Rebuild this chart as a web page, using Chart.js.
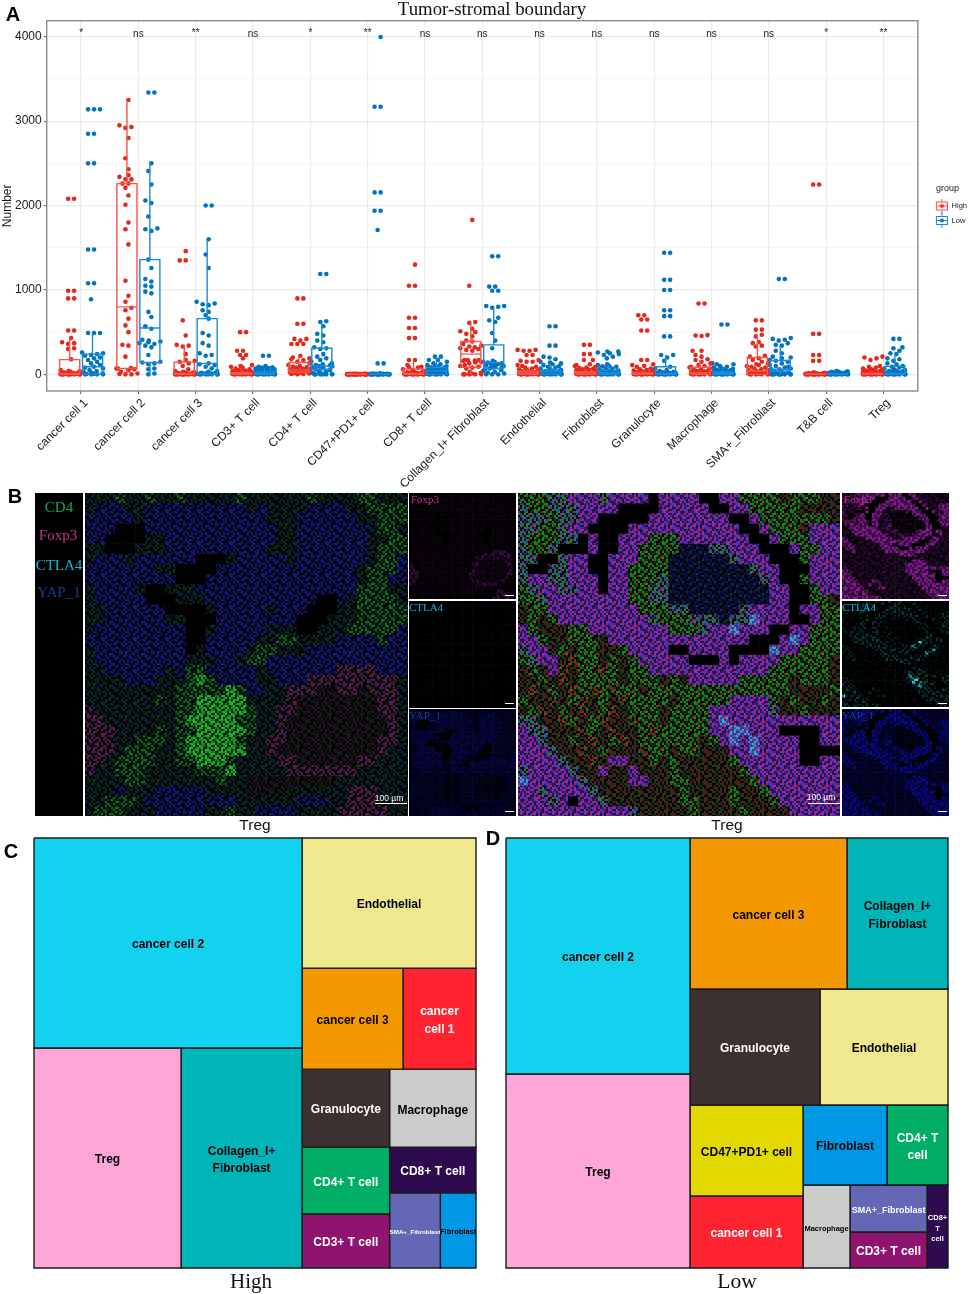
<!DOCTYPE html>
<html>
<head>
<meta charset="utf-8">
<title>Tumor-stromal boundary</title>
<script src="https://cdn.jsdelivr.net/npm/chart.js"></script>
<style>
  html, body { margin: 0; padding: 0; background: #fff; }
  #page { position: relative; width: 969px; height: 1294px; overflow: hidden; }
  canvas { position: absolute; display: block; }
  .txt { position: absolute; white-space: nowrap; transform: translate(-50%, -50%); line-height: 1; }
</style>
</head>
<body>
<div id="page"></div>
<script>
// ---- panel A data ----
var categories = ['cancer cell 1', 'cancer cell 2', 'cancer cell 3', 'CD3+ T cell', 'CD4+ T cell', 'CD47+PD1+ cell', 'CD8+ T cell',
  'Collagen_I+ Fibroblast', 'Endothelial', 'Fibroblast', 'Granulocyte', 'Macrophage', 'SMA+_Fibroblast', 'T&B cell', 'Treg'];
var significance = ['*', 'ns', '**', 'ns', '*', '**', 'ns', 'ns', 'ns', 'ns', 'ns', 'ns', 'ns', '*', '**'];
var yTicks = [0, 500, 1000, 1500, 2000, 2500, 3000, 3500, 4000];
var xTicks = [1, 2, 3, 4, 5, 6, 7, 8, 9, 10, 11, 12, 13, 14, 15];

// lower whisker, q1, median, q3, upper whisker
var highBoxes = [[0,0,10,175,430],[0,70,800,2260,3250],[0,0,10,145,350],[0,0,5,20,50],[0,25,50,140,220],[0,0,0,5,5],[0,0,10,65,160],
  [0,85,240,390,620],[0,0,20,40,90],[0,0,20,30,60],[0,0,10,20,50],[0,0,20,85,170],[0,0,40,200,470],[0,0,0,5,10],[0,0,5,15,35]];
var lowBoxes = [[0,0,90,240,490],[0,140,550,1360,2500],[0,5,130,660,1600],[0,0,10,30,70],[0,60,100,310,630],[0,0,0,5,10],[0,0,40,80,210],
  [0,70,140,350,780],[0,0,30,50,110],[0,0,20,50,110],[0,0,10,90,230],[0,0,15,30,70],[0,40,60,165,340],[0,0,0,5,10],[0,0,10,95,230]];

var highPoints = [
  [2080,2080,990,990,900,900,520,520,430,380,370,360,310,300,180,50,40,35,30,25,20,20,15,15,10,10,10,5,5,5,5,0,0,0,0,0,0,0,0,0],
  [3250,2950,2930,2920,2800,2560,2430,2360,2340,2310,2310,2260,2260,2210,2120,2010,1800,1720,1540,1110,930,860,790,760,660,580,500,350,340,210,75,70,70,60,50,30,10,5,0,0],
  [1460,1350,1350,640,460,350,340,330,240,170,160,150,130,100,60,40,30,25,20,15,15,10,10,10,5,5,5,5,5,0,0,0,0,0,0,0,0,0,0,0],
  [500,500,280,280,230,230,190,110,100,90,80,70,60,50,45,40,35,30,30,25,25,20,20,15,15,10,10,10,5,5,5,5,5,0,0,0,0,0,0,0],
  [900,900,600,600,420,420,400,360,360,360,220,200,190,180,170,150,130,110,100,90,85,80,70,60,55,50,45,40,35,30,30,25,20,20,15,10,10,5,5,0],
  [8,8,7,7,6,6,5,5,5,5,4,4,4,3,3,3,3,2,2,2,2,1,1,1,1,0,0,0,0,0,0,0,0,0,0,0,0,0,0,0],
  [1300,1050,1050,670,670,550,550,430,430,170,170,110,90,85,80,60,50,40,30,25,20,15,15,10,10,10,5,5,5,5,0,0,0,0,0,0,0,0,0,0],
  [1830,1050,620,610,540,510,500,480,450,400,390,360,340,330,320,310,300,290,280,170,170,170,165,160,150,140,130,110,100,90,80,70,30,20,10,0,0,0,0,0],
  [290,290,280,280,230,230,170,160,150,150,110,100,90,80,70,60,50,45,40,35,30,25,20,20,15,15,10,10,5,5,5,5,0,0,0,0,0,0,0,0],
  [350,350,240,240,170,170,120,110,100,90,80,75,70,60,55,50,45,40,35,30,25,20,20,15,15,10,10,10,5,5,5,5,0,0,0,0,0,0,0,0],
  [700,700,650,650,520,520,170,170,120,110,100,90,70,60,50,45,40,35,30,25,20,20,15,15,10,10,10,5,5,5,5,5,0,0,0,0,0,0,0,0],
  [840,840,465,460,455,280,280,230,210,180,170,150,130,110,100,90,80,70,60,50,45,40,35,30,25,20,20,15,15,10,10,5,5,5,0,0,0,0,0,0],
  [640,640,530,530,470,450,380,370,340,330,220,210,190,170,150,130,120,110,100,90,80,70,60,50,40,40,30,30,20,20,15,10,10,5,5,0,0,0,0,0],
  [2250,2250,480,480,230,230,160,160,25,20,15,15,10,10,8,8,6,6,5,5,5,4,4,3,3,2,2,1,1,1,0,0,0,0,0,0,0,0,0,0],
  [210,200,190,170,100,90,80,70,60,55,50,45,40,35,30,30,25,25,20,20,15,15,10,10,10,5,5,5,5,5,0,0,0,0,0,0,0,0,0,0]
];
var lowPoints = [
  [3140,3140,3140,2850,2850,2500,2500,1480,1480,1080,1080,890,490,490,490,260,250,240,230,220,200,190,170,150,130,110,90,80,70,50,40,30,20,10,5,5,0,0,0,0],
  [3340,3340,2500,2410,2250,2060,2030,1870,1730,1720,1700,1360,1260,1130,1100,1050,1040,980,960,740,680,570,540,410,400,390,380,370,360,340,320,230,150,140,130,120,70,60,10,0],
  [2000,2000,1600,1420,1260,860,840,830,820,760,740,700,660,490,460,370,340,250,230,220,130,120,110,90,70,40,30,20,15,10,10,5,5,0,0,0,0,0,0,0],
  [220,220,100,90,85,80,75,70,65,60,55,50,45,40,35,30,30,25,25,20,20,15,15,15,10,10,10,10,5,5,5,5,5,0,0,0,0,0,0,0],
  [1190,1190,630,620,570,480,460,400,380,320,310,300,240,210,190,170,150,130,120,110,105,100,95,90,85,80,70,60,50,40,30,20,10,5,0,0,0,0,0,0],
  [3997,3170,3170,2156,2156,1938,1938,1710,130,130,12,10,8,7,6,6,5,5,4,4,3,3,3,2,2,2,1,1,1,1,0,0,0,0,0,0,0,0,0,0],
  [210,210,170,170,150,130,120,110,100,95,90,85,80,75,70,65,60,55,50,50,45,40,35,30,30,25,20,20,15,10,10,5,5,5,0,0,0,0,0,0],
  [1400,1400,1040,1040,990,990,810,810,800,790,670,640,620,490,400,310,160,150,145,140,130,125,120,110,105,100,95,90,80,75,70,60,50,40,30,20,10,0,0,0],
  [570,570,340,340,210,200,180,150,140,130,120,110,95,90,80,70,60,50,45,40,35,30,25,20,20,15,15,10,10,5,5,5,5,0,0,0,0,0,0,0],
  [270,270,260,250,240,230,210,190,120,110,100,95,90,80,70,60,50,45,40,35,30,25,25,20,20,15,15,10,10,5,5,5,5,0,0,0,0,0,0,0],
  [1440,1440,1120,1120,1000,1000,760,760,690,690,450,450,230,230,200,160,90,70,50,40,30,25,20,20,15,15,10,10,5,5,5,5,0,0,0,0,0,0,0,0],
  [590,590,130,120,120,100,90,80,70,65,60,55,50,45,40,40,35,30,30,25,25,20,20,15,15,10,10,10,5,5,5,5,0,0,0,0,0,0,0,0],
  [1130,1130,430,420,410,400,370,350,340,280,250,210,200,190,170,160,150,130,110,100,90,80,70,60,60,50,40,30,20,10,5,0,0,0,0,0,0,0,0,0],
  [40,35,30,30,25,25,20,20,18,16,15,14,12,11,10,10,9,8,8,7,6,6,5,5,5,4,4,3,3,2,2,2,1,1,1,0,0,0,0,0],
  [420,420,320,310,280,250,240,190,180,160,130,120,100,90,80,70,60,50,45,40,35,30,25,20,20,15,15,10,10,5,5,5,0,0,0,0,0,0,0,0]
];

// ---- panel B: tissue maps read by eye, one letter per grid cell ----
var highTissue = [
  'eeegeegeegeeeeegeeeeeegeeeeggeee','ebbbeebbbbbbbbbbebeeeebbbbeegggg','bbbbbebbbbbbbbbbbbeeebbbbbbeeggg','bbbkkkbbbbbbbbbbbbbeebbbbbbbegge',
  'bbkkkkeebbbbbbbbbbbeebbbbbbbeegg','eekkkeeebbbbbbbbbbeeebbbbbbbeggg','ebbbebbbbbbkkkebbbbbebbbbbbbeggb','bbbbbbbeekkkkbbbbbbbbbbbbbbegggb',
  'bbbbbbbbbkkkbbbbbbbbbbbbbbbeggbb','ebbbbekkeeebbbbbbbbbbbbbbbbgggee','ebbbbbkkkeeebbbbbbbbbbbkkbegggge','eebbbbbbkkkkebbbbbebbbkkkeeggggg',
  'eebbbbbbeekkkbbbbbbbbkkkeeeggggg','ebbbbbbbbbkkebbbbbeeekkeeegggggb','bbbbbbbbbbkkbbbbbeeggeeeebbbbgbb','ebbbbbbbbbkebbbbeggeeebbbbbbbbbb',
  'ebbbbbbbbbeeebbeggbbbbbbbbbbbbbb','eebbbbbbebggbbbbbebbbbbbbvvvvbbb','eeeebbbeeegGgbbbbeebbbvvvvvvvvve','eeeeeeeeegggggGgbbeevvvddvvdvvve',
  'eeeeeeegeggGGGGGeeeevddddddddvve','veeeeeeeeggGGGGGgeevvddddddddvve','vveeeeeeegGGGGGggeevddddddddddve','vvveeeegeggGGGGGgeevddddddddddve',
  'vvveegggegGGGGGgeevvdddddddddvve','vvvegggeegGGGGGGeevddddddddddvee','vveggggeeggGGGgeeeevvddddddvveee','veegggeeeeegggGeeeeevvvvvvveeeee',
  'eeeeggeeeeeeegeedddddddddeeeeeee','eeebeeebbbbbeeeeddddeeeeeevvveee','eegggebbbbbbbbbeeeeeebbbeevvveee','egggeeebbbbbeegeebbbbeeeevvvvvee'
];
var lowTissue = [
  'gggxxmmmxmmmmkmmmmkkmmggggdgggdd','xggxxxmmmmkkkkmmmmmkkmmgggggdddd','xxxgxxmmkkkkkmmmmmmmmkkmgggggggd','xxggxmmkkkkmmmmmmmmmmmkkmgggdmmm',
  'xgggxxkmkkmmmgggmmmmmmmkkmgggmmm','xggxkkkmkkmmggggnnnxxmmmkkkmggmm','xxkkxmmkkmmmgggnnnnnnxmmmkkkgmmm','xkkxxmmkkmmggggnnnnnnnnxmmkkkmmm',
  'xmmxxmmmkmmgggxnnnnnnnnnxmkkgmmm','gxmmxxmmkmmggxxnnnnnnnnnnmmkkgmm','ggxmmmmmmmmggxxnnnnnnnnnnmmkkggd','dggmmmmmmmmmgggxxnnnnnxmmmmkmmgg',
  'dgdgmmmmmmmmmxgggxxxnxxcmmmkkmgg','mgdddggmmmmmmmmgggxmmcmmmkkmmggg','mmgddgggdmmmmmmmmmmmmmmkkkmcmggg','xmmdgdggddgmmmmkkmmmmkkkkcmmgggg',
  'gxmmdrggdgdgmmmmmkkkmkmmmmgggggd','dgdmrdggrgdggmmmmmmmmmmmmggggggd','ddgdrdggggdgggdgdmmmmmgggggdgggd','drdgdrgrgrggdggggggggggggggddddg',
  'gddrdgrdgdrggggdgggggmmmmgdgddgd','dgrdgdrdgrdgggdggggmmmmmmxddgddd','xxddrgdgrddrggdggggmcmmmmmmmmmmm','mxxdddrgdrddgrgggggmmccmmmkkkkmm',
  'mmxddgdrdgrdggggggdgmcmcmmmmkkmm','mmmxddrdgdddrggdggdddmmcmmmmkkkk','mmmmxddrdmmddgdgdddddgmmmmmmkkmm','xmmmmxddmddmdddgddddddgmmmmmmmmm',
  'cmmmmmxddddmmddggddddddgmmmmmmmm','mmxmmmmxddddddddgddddgddgmmmmmmm','mmmxmkmmxdddddddggdddgdddgmmmmmm','mmmmmmmmmmmxdddddgddddgddddmmmmm'
];
var speckleTile = ['2012021302120012','1220310212023101','0212120021302210','2301202130120213','1020213022010122','2112002120321002',
  '0231210201220131','1202032212010220','2010122103022102','3221021200213012','0120230121022120','2102012023101203',
  '1230220112020221','0212103202132010','2021210220112302','1302002131022120'];

var black4 = ['#000','#000','#000','#000'];
var dim = ['#0a020c','#050105','#000','#080208'];
var highMerge = { k: ['#020402','#000','#000','#010201'], e: ['#0a3010','#080834','#010201','#081c0e'], b: ['#16168c','#08083c','#020206','#082010'],
  g: ['#10701a','#062a0c','#010301','#0a1448'], G: ['#1cb828','#0c7a18','#031e08','#109a1e'], v: ['#5a1660','#08200e','#030303','#701428'], d: ['#2a0c28','#0a200e','#030303','#040404'] };
var highFoxp3 = { k: black4, e: dim, b: dim, g: dim, G: dim, v: ['#3a0c44','#1c0620','#0a020c','#300a38'], d: ['#100414','#0a020c','#050105','#140518'] };
var highCtla4 = { k: black4, e: black4, b: black4, g: ['#000','#020602','#000','#010301'], G: ['#000','#020602','#000','#010301'], v: black4, d: black4 };
var highYap = { k: black4, e: ['#020228','#01011a','#01010c','#030330'], b: ['#040440','#030330','#020218','#05054c'], g: ['#020228','#01011a','#01010c','#030330'],
  G: ['#01011a','#01010c','#000008','#020228'], v: ['#030334','#020228','#010114','#04043c'], d: ['#01011a','#01010c','#000008','#020228'] };

var lowMerge = { k: ['#000','#000','#000','#010101'], m: ['#8a2aa8','#2a2aac','#2a1240','#b81e58'], x: ['#188a2c','#3030a8','#0c0c14','#a82040'], g: ['#0c8c1a','#083a10','#030603','#981c1c'],
  d: ['#0a4014','#681018','#040604','#101034'], r: ['#a01818','#0a4014','#040604','#108020'], n: ['#0a0a50','#101034','#030308','#0c3a18'], c: ['#20b8c8','#7a3aa8','#2040a0','#c03088'] };
var lowFoxp3 = { k: black4, m: ['#7a1a80','#52105e','#340a40','#8a1c8a'], c: ['#7a1a80','#52105e','#340a40','#8a1c8a'], x: ['#4a1050','#300a38','#180618','#5a1268'],
  g: ['#24082a','#140518','#0a020c','#300a38'], d: ['#1c0820','#100410','#0a020c','#240a28'], r: ['#1c0820','#100410','#0a020c','#240a28'], n: ['#100414','#080208','#040104','#140518'] };
var lowCtla4 = { k: black4, m: ['#052828','#010808','#000','#083c3c'], c: ['#30c0c0','#108080','#083030','#50e0e0'], x: ['#021414','#000','#000','#042020'],
  g: ['#010808','#000','#000','#021010'], d: ['#000','#000','#000','#010808'], r: ['#000','#000','#000','#010808'], n: ['#000','#000','#000','#010808'] };
var lowYap = { k: black4, m: ['#06067a','#04045c','#020224','#08088c'], c: ['#06067a','#04045c','#020224','#08088c'], x: ['#05056c','#040450','#020230','#07078a'],
  g: ['#020238','#020228','#010114','#030344'], d: ['#02022c','#020220','#010110','#030338'], r: ['#02022c','#020220','#010110','#030338'], n: ['#01011c','#010110','#00000a','#020228'] };

// ---- panels C and D ----
var cellColors = { 'cancer cell 2': '#12D2F0', 'Treg': '#FFA6D8', 'Collagen_I+ Fibroblast': '#00B5B8', 'Endothelial': '#F0E88E', 'cancer cell 3': '#F39800',
  'cancer cell 1': '#FF2430', 'Granulocyte': '#3D3030', 'Macrophage': '#CBCBCB', 'CD4+ T cell': '#00AE66', 'CD8+ T cell': '#2E0A4E', 'CD3+ T cell': '#8E1470',
  'SMA+_Fibroblast': '#6468B4', 'Fibroblast': '#0098E4', 'CD47+PD1+ cell': '#E3D800' };
var whiteText = ['cancer cell 1', 'Granulocyte', 'CD4+ T cell', 'CD8+ T cell', 'CD3+ T cell', 'SMA+_Fibroblast'];
var highAreas = { 'cancer cell 2': 5628, 'Treg': 3234, 'Collagen_I+ Fibroblast': 2662, 'Endothelial': 2262, 'cancer cell 3': 1020, 'cancer cell 1': 737, 'Granulocyte': 682,
  'Macrophage': 675, 'CD4+ T cell': 586, 'CD3+ T cell': 472, 'CD8+ T cell': 394, 'SMA+_Fibroblast': 381, 'Fibroblast': 268 };
var lowAreas = { 'cancer cell 2': 4342, 'Treg': 3570, 'cancer cell 3': 2371, 'Collagen_I+ Fibroblast': 1525, 'Granulocyte': 1508, 'Endothelial': 1485, 'CD47+PD1+ cell': 1028,
  'cancer cell 1': 814, 'Fibroblast': 672, 'CD4+ T cell': 488, 'Macrophage': 390, 'SMA+_Fibroblast': 362, 'CD3+ T cell': 277, 'CD8+ T cell': 174 };
var highTree = ['h', ['v', 'cancer cell 2', ['h', 'Treg', 'Collagen_I+ Fibroblast']],
  ['v', 'Endothelial', ['h', 'cancer cell 3', 'cancer cell 1'],
    ['h', ['v', 'Granulocyte', 'CD4+ T cell', 'CD3+ T cell'], ['v', 'Macrophage', 'CD8+ T cell', ['h', 'SMA+_Fibroblast', 'Fibroblast']]]]];
var lowTree = ['h', ['v', 'cancer cell 2', 'Treg'],
  ['v', ['h', 'cancer cell 3', 'Collagen_I+ Fibroblast'], ['h', 'Granulocyte', 'Endothelial'],
    ['h', ['v', 'CD47+PD1+ cell', 'cancer cell 1'],
      ['v', ['h', 'Fibroblast', 'CD4+ T cell'], ['h', 'Macrophage', ['v', 'SMA+_Fibroblast', 'CD3+ T cell'], 'CD8+ T cell']]]]];
var highLines = { 'Collagen_I+ Fibroblast': ['Collagen_I+', 'Fibroblast'], 'cancer cell 1': ['cancer', 'cell 1'] };
var lowLines = { 'Collagen_I+ Fibroblast': ['Collagen_I+', 'Fibroblast'], 'CD4+ T cell': ['CD4+ T', 'cell'], 'CD8+ T cell': ['CD8+', 'T', 'cell'] };
var highSizes = { 'SMA+_Fibroblast': 6.2, 'Fibroblast': 7.5 };
var lowSizes = { 'Macrophage': 7.5, 'SMA+_Fibroblast': 9, 'CD8+ T cell': 7.5 };

// ---- helpers ----
var SANS = '"Liberation Sans", Arial, sans-serif';
var SERIF = '"Liberation Serif", "Times New Roman", serif';
var page = document.getElementById('page');

function addCanvas(x, y, w, h) {
  var c = document.createElement('canvas');
  c.width = w; c.height = h;
  c.style.left = x + 'px'; c.style.top = y + 'px';
  c.style.width = w + 'px'; c.style.height = h + 'px';
  page.appendChild(c);
  return c;
}
function addText(t, x, y, font, color) {
  var d = document.createElement('div');
  d.className = 'txt';
  d.textContent = t;
  d.style.left = x + 'px'; d.style.top = y + 'px';
  d.style.font = font; d.style.color = color || '#000';
  page.appendChild(d);
}

// jitter: put each value next to the centre where it does not sit on another dot
var PX_PER_CAT = 57.36, PX_PER_UNIT = 0.0844;
function spread(values, centre) {
  var sorted = values.slice().sort(function (a, b) { return a - b; });
  var placed = [];
  sorted.forEach(function (v, i) {
    var best = null;
    for (var k = 0; k < 8 && best === null; k++) {
      var signs = i % 2 ? [1, -1] : [-1, 1];
      for (var s = 0; s < 2; s++) {
        var off = signs[s] * (k + 0.5) * 3;
        var hit = placed.some(function (p) {
          var dx = p.off - off, dy = (p.v - v) * PX_PER_UNIT;
          return dx * dx + dy * dy < 20;
        });
        if (!hit && Math.abs(off) <= 10.5) { best = off; break; }
      }
    }
    if (best === null) best = [-9, 4, -3, 8, -6, 1, 10, -1][i % 8];
    placed.push({ v: v, off: best });
  });
  return placed.map(function (p) { return { x: centre + p.off / PX_PER_CAT, y: p.v }; });
}
function jitterData(pointLists, dodge) {
  var out = [];
  pointLists.forEach(function (list, i) { out = out.concat(spread(list, i + 1 + dodge)); });
  return out;
}
function boxOutlines(boxes, dodge) {
  var out = [], hw = 0.175, gap = { x: 0, y: NaN };
  boxes.forEach(function (b, i) {
    var c = i + 1 + dodge;
    out.push({ x: c - hw, y: b[1] }, { x: c + hw, y: b[1] }, { x: c + hw, y: b[3] }, { x: c - hw, y: b[3] }, { x: c - hw, y: b[1] }, gap);
    out.push({ x: c - hw, y: b[2] }, { x: c + hw, y: b[2] }, gap);
    out.push({ x: c, y: b[3] }, { x: c, y: b[4] }, gap);
    out.push({ x: c, y: b[1] }, { x: c, y: b[0] }, gap);
  });
  return out;
}
function legendGlyph(color, dot) {
  var c = document.createElement('canvas');
  c.width = 23; c.height = 15;
  var g = c.getContext('2d');
  g.strokeStyle = color; g.fillStyle = dot; g.lineWidth = 1;
  g.strokeRect(11.5, 3.5, 11, 8);
  g.beginPath(); g.moveTo(11, 7.5); g.lineTo(23, 7.5); g.moveTo(17, 0); g.lineTo(17, 3.5); g.moveTo(17, 11.5); g.lineTo(17, 15); g.stroke();
  g.beginPath(); g.arc(17, 7.5, 2, 0, Math.PI * 2); g.fill();
  return c;
}

// ---- panel A ----
var RED = '#E5281A', RED_BOX = '#F4554C', BLUE = '#0073C2', BLUE_BOX = '#1B8CD8';
var panelFrame = {
  id: 'panelFrame',
  afterDraw: function (chart) {
    var a = chart.chartArea, g = chart.ctx, x = chart.scales.x, y = chart.scales.y;
    g.save();
    g.strokeStyle = '#8a8a8a'; g.lineWidth = 1.4;
    g.strokeRect(a.left, a.top, a.right - a.left, a.bottom - a.top);
    g.font = '10px ' + SANS; g.fillStyle = '#222'; g.textAlign = 'center'; g.textBaseline = 'middle';
    significance.forEach(function (s, i) { g.fillText(s, x.getPixelForValue(i + 1), y.getPixelForValue(s === 'ns' ? 4025 : 4040)); });
    g.restore();
  }
};
new Chart(addCanvas(0, 0, 969, 490), {
  type: 'scatter',
  data: {
    datasets: [
      { label: 'High box', data: boxOutlines(highBoxes, -0.2), showLine: true, borderColor: RED_BOX, borderWidth: 1.4, pointRadius: 0, order: 0 },
      { label: 'Low box', data: boxOutlines(lowBoxes, 0.2), showLine: true, borderColor: BLUE_BOX, borderWidth: 1.4, pointRadius: 0, order: 0 },
      { label: 'High', data: jitterData(highPoints, -0.2), backgroundColor: RED, pointRadius: 2.3, borderWidth: 0, order: 1 },
      { label: 'Low', data: jitterData(lowPoints, 0.2), backgroundColor: BLUE, pointRadius: 2.3, borderWidth: 0, order: 1 }
    ]
  },
  options: {
    responsive: false, animation: false, devicePixelRatio: 1,
    layout: { padding: { top: 20.7, right: -8, left: 0, bottom: 0 } },
    plugins: {
      tooltip: { enabled: false },
      legend: {
        position: 'right', fullSize: false,
        title: { display: true, text: 'group', color: '#222', font: { family: SANS, size: 9 }, padding: { top: 4, bottom: 0 } },
        labels: {
          usePointStyle: true, pointStyleWidth: 23, padding: 7, color: '#222', font: { family: SANS, size: 7.5 },
          generateLabels: function () {
            return [
              { text: 'High', pointStyle: legendGlyph(RED_BOX, RED), fontColor: '#222', datasetIndex: 2 },
              { text: 'Low', pointStyle: legendGlyph(BLUE_BOX, BLUE), fontColor: '#222', datasetIndex: 3 }
            ];
          }
        }
      }
    },
    scales: {
      x: {
        type: 'linear', min: 0.4, max: 15.6,
        afterBuildTicks: function (s) { s.ticks = xTicks.map(function (v) { return { value: v }; }); },
        afterFit: function (s) { s.height = 99; },
        ticks: {
          stepSize: 1, autoSkip: false, minRotation: 45, maxRotation: 45, padding: 2, labelOffset: 5, color: '#1a1a1a', font: { family: SANS, size: 12 },
          callback: function (v) { return categories[v - 1] || ''; }
        },
        grid: { color: '#ececec', lineWidth: 1.2, tickColor: '#666', tickLength: 3, tickWidth: 1 },
        border: { display: false }
      },
      y: {
        min: -197, max: 4190,
        afterBuildTicks: function (s) { s.ticks = yTicks.map(function (v) { return { value: v }; }); },
        afterFit: function (s) { s.width = 46.7; },
        title: { display: true, text: 'Number', color: '#1a1a1a', font: { family: SANS, size: 12 }, padding: 0 },
        ticks: {
          stepSize: 500, autoSkip: false, padding: 2, color: '#1a1a1a', font: { family: SANS, size: 12 },
          callback: function (v) { return v % 1000 === 0 ? String(v) : ''; }
        },
        grid: {
          color: function (c) { return c.tick && c.tick.value % 1000 === 0 ? '#ececec' : '#f3f3f3'; },
          lineWidth: function (c) { return c.tick && c.tick.value % 1000 === 0 ? 1.2 : 0.8; },
          tickColor: function (c) { return c.tick && c.tick.value % 1000 === 0 ? '#666' : 'rgba(0,0,0,0)'; },
          tickLength: 3, tickWidth: 1
        },
        border: { display: false }
      }
    }
  },
  plugins: [panelFrame]
});

// ---- panel B: each panel is a stacked bar heatmap of the tissue map ----
var tileCache = {};
function tilePattern(colors) {
  var key = colors.join();
  if (tileCache[key]) return tileCache[key];
  var t = document.createElement('canvas'), n = speckleTile.length;
  t.width = t.height = n * 2;
  var tg = t.getContext('2d');
  speckleTile.forEach(function (row, r) {
    for (var c = 0; c < n; c++) { tg.fillStyle = colors[+row[c]]; tg.fillRect(c * 2, r * 2, 2, 2); }
  });
  return (tileCache[key] = t);
}
function tissueChart(x, y, w, h, rows, palette) {
  var cv = addCanvas(x, y, w, h), g = cv.getContext('2d');
  cv.style.filter = 'blur(0.6px)';
  var cols = rows[0].split('').map(function (_, i) { return i; });
  new Chart(cv, {
    type: 'bar',
    data: {
      labels: cols,
      datasets: rows.map(function (row) {
        return {
          data: cols.map(function () { return 1; }),
          backgroundColor: row.split('').map(function (ch) { return g.createPattern(tilePattern(palette[ch] || black4), 'repeat'); }),
          barPercentage: 1, categoryPercentage: 1, borderWidth: 0
        };
      })
    },
    options: {
      responsive: false, animation: false, devicePixelRatio: 1,
      plugins: { legend: { display: false }, tooltip: { enabled: false } },
      scales: {
        x: { stacked: true, display: false },
        y: { stacked: true, display: false, reverse: true, min: 0, max: rows.length }
      }
    }
  });
}
var blackPanel = addCanvas(35, 493, 48, 323);
blackPanel.getContext('2d').fillRect(0, 0, 48, 323);

tissueChart(85, 493, 323, 323, highTissue, highMerge);
tissueChart(409, 493, 107, 106, highTissue, highFoxp3);
tissueChart(409, 601, 107, 107, highTissue, highCtla4);
tissueChart(409, 709, 107, 107, highTissue, highYap);
tissueChart(518, 493, 322, 323, lowTissue, lowMerge);
tissueChart(842, 493, 107, 106, lowTissue, lowFoxp3);
tissueChart(842, 601, 107, 106, lowTissue, lowCtla4);
tissueChart(842, 709, 107, 107, lowTissue, lowYap);

addText('CD4', 59, 507, '15px ' + SERIF, '#12A850');
addText('Foxp3', 58, 535, '15px ' + SERIF, '#C0358F');
addText('CTLA4', 59, 565, '15px ' + SERIF, '#10B4D8');
addText('YAP_1', 59, 592, '15px ' + SERIF, '#12408F');
[[425, 499], [858, 499]].forEach(function (p) { addText('Foxp3', p[0], p[1], '11px ' + SERIF, '#C0358F'); });
[[426, 607], [859, 607]].forEach(function (p) { addText('CTLA4', p[0], p[1], '11px ' + SERIF, '#10B4D8'); });
[[425, 715], [858, 715]].forEach(function (p) { addText('YAP_1', p[0], p[1], '11px ' + SERIF, '#12408F'); });
addText('100 µm', 389, 798, '8.5px ' + SANS, '#fff');
addText('100 µm', 821, 797, '8.5px ' + SANS, '#fff');
[[375, 803, 32], [808, 803, 32], [505, 595, 9], [505, 703, 9], [505, 811, 9], [938, 595, 9], [938, 703, 9], [938, 811, 9]].forEach(function (b) {
  var d = document.createElement('div');
  d.style.cssText = 'position:absolute;background:#fff;height:1px;left:' + b[0] + 'px;top:' + b[1] + 'px;width:' + b[2] + 'px';
  page.appendChild(d);
});
addText('Treg', 255, 825, '15.5px ' + SANS, '#111');
addText('Treg', 727, 825, '15.5px ' + SANS, '#111');

// ---- panels C and D: slice the area by the values, then draw each cell as a closed line ----
function treeSum(node, areas) {
  if (typeof node === 'string') return areas[node];
  return node.slice(1).reduce(function (s, n) { return s + treeSum(n, areas); }, 0);
}
function sliceTree(node, areas, x0, y0, x1, y1, out) {
  if (typeof node === 'string') { out.push({ name: node, x0: x0, y0: y0, x1: x1, y1: y1 }); return; }
  var total = treeSum(node, areas), at = node[0] === 'h' ? x0 : y0;
  node.slice(1).forEach(function (n) {
    var part = treeSum(n, areas) / total;
    if (node[0] === 'h') { var nx = at + (x1 - x0) * part; sliceTree(n, areas, at, y0, nx, y1, out); at = nx; }
    else { var ny = at + (y1 - y0) * part; sliceTree(n, areas, x0, at, x1, ny, out); at = ny; }
  });
}
var cellText = {
  id: 'cellText',
  afterDatasetsDraw: function (chart, args, opts) {
    var g = chart.ctx, x = chart.scales.x, y = chart.scales.y;
    g.save();
    g.textAlign = 'center'; g.textBaseline = 'middle';
    opts.cells.forEach(function (c) {
      var size = opts.sizes[c.name] || 12;
      var lines = opts.lines[c.name] || [c.name];
      var cx = x.getPixelForValue((c.x0 + c.x1) / 2), cy = y.getPixelForValue((c.y0 + c.y1) / 2) + 2;
      var step = size * 1.45;
      g.font = 'bold ' + size + 'px ' + SANS;
      g.fillStyle = whiteText.indexOf(c.name) >= 0 ? '#fff' : '#000';
      lines.forEach(function (t, i) { g.fillText(t, cx, cy + (i - (lines.length - 1) / 2) * step); });
    });
    g.restore();
  }
};
function treemapChart(left, tree, areas, lines, sizes) {
  var cells = [];
  sliceTree(tree, areas, 0, 0, 1, 1, cells);
  new Chart(addCanvas(left - 2, 836, 446, 434), {
    type: 'scatter',
    data: {
      datasets: cells.map(function (c) {
        return {
          label: c.name,
          data: [{ x: c.x0, y: c.y0 }, { x: c.x1, y: c.y0 }, { x: c.x1, y: c.y1 }, { x: c.x0, y: c.y1 }, { x: c.x0, y: c.y0 }],
          showLine: true, fill: 'shape', backgroundColor: cellColors[c.name], borderColor: '#1a1a1a', borderWidth: 1.4, pointRadius: 0, clip: false
        };
      })
    },
    options: {
      responsive: false, animation: false, devicePixelRatio: 1,
      layout: { padding: 2 },
      plugins: { legend: { display: false }, tooltip: { enabled: false }, cellText: { cells: cells, lines: lines, sizes: sizes } },
      scales: {
        x: { type: 'linear', min: 0, max: 1, display: false },
        y: { type: 'linear', min: 0, max: 1, reverse: true, display: false }
      }
    },
    plugins: [cellText]
  });
}
treemapChart(34, highTree, highAreas, highLines, highSizes);
treemapChart(506, lowTree, lowAreas, lowLines, lowSizes);

// ---- titles and panel letters ----
addText('Tumor-stromal boundary', 492, 8.5, '18.8px ' + SERIF, '#111');
addText('High', 251, 1281, '21px ' + SERIF, '#111');
addText('Low', 737, 1281, '21.5px ' + SERIF, '#111');
addText('A', 13, 14, 'bold 20px ' + SANS);
addText('B', 15, 496, 'bold 20px ' + SANS);
addText('C', 11, 851, 'bold 20px ' + SANS);
addText('D', 493, 838, 'bold 20px ' + SANS);
</script>
</body>
</html>
